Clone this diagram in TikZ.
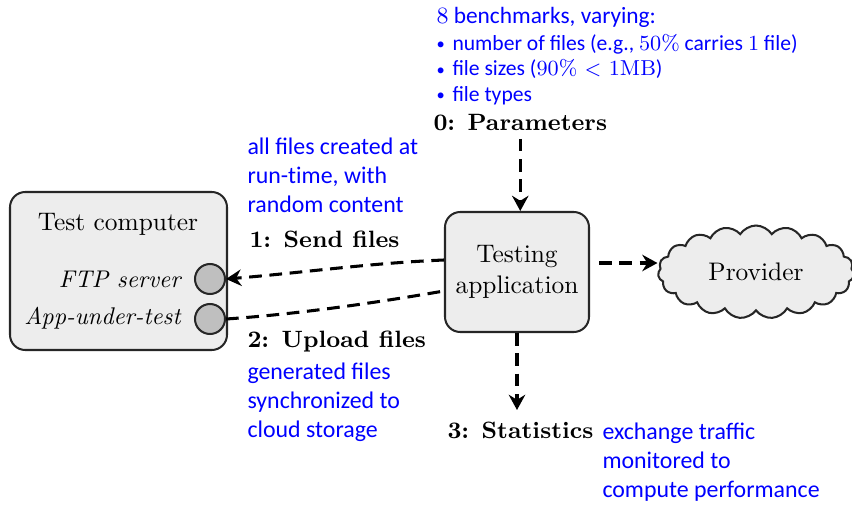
\documentclass[tikz,border=0pt]{standalone}
\usepackage{fontspec}
\usetikzlibrary{arrows.meta,shapes.symbols,fit}
\newfontfamily\blufont{Carlito}
\newdimen\pxu
\pxu=0.3937pt
\newcommand{\itembullet}{\makebox[16\pxu][l]{\raisebox{0.3pt}{\fontsize{6.5}{7}\selectfont •}}}
\tikzset{
  panel/.style={draw=black!85, line width=0.8pt, fill=black!7, rounded corners=6pt},
  port/.style={circle, draw=black!85, line width=0.8pt, fill=black!25,
    minimum size=30\pxu, inner sep=0pt},
  dflow/.style={line width=1.2pt, dash pattern=on 5pt off 3pt},
  tip/.style={-{Stealth[length=6pt,width=6.5pt,inset=2pt]}},
  stagelbl/.style={font=\fontsize{9.3}{11}\selectfont\bfseries, inner sep=0pt},
  plain/.style={font=\fontsize{10}{12}\selectfont, inner sep=0pt},
  portlbl/.style={font=\fontsize{9.5}{11}\selectfont\itshape, inner sep=0pt, anchor=base east},
  note/.style={text=blue, font=\blufont\fontsize{9.4}{11.4}\selectfont,
    align=left, inner sep=0pt},
}
\begin{document}
\begin{tikzpicture}[x=0.3937pt, y=-0.3937pt]
\useasboundingbox (0,0) rectangle (852,505);

% test computer with its two ports
\node[panel, fit={(10,192) (227,350)}, inner sep=0pt] (tc) {};
\node[plain, anchor=base] (tctitle) at (118,230) {Test computer};
\node[port] (ftp) at (210,279) {};
\node[port] (aut) at (210,319) {};
\node[portlbl] (ftplbl) at (181,287) {FTP server};
\node[portlbl] (autlbl) at (181,324) {App-under-test};

% testing application
\node[panel, minimum width=144\pxu, minimum height=120\pxu, align=center,
      font=\fontsize{10}{12}\selectfont] (app) at (517,272) {Testing\\application};

% cloud provider
\node[cloud, cloud puffs=19, cloud puff arc=115, aspect=2.1, draw=black!85,
      line width=0.8pt, fill=black!7, minimum width=196\pxu, minimum height=93\pxu,
      font=\fontsize{10}{12}\selectfont] (prov) at (756,272) {Provider};

% stage labels
\node[stagelbl, anchor=base west] (param) at (433,130) {0: Parameters};
\node[stagelbl, anchor=base west] (send) at (249,247) {1: Send files};
\node[stagelbl, anchor=base west] (upload) at (247,347) {2: Upload files};
\node[stagelbl, anchor=base west] (stats) at (447,438) {3: Statistics};

% notes (the base anchor sits on the last line)
\node[note, anchor=base west, font=\blufont\fontsize{8.5}{9.9}\selectfont] (bench) at (436,101)
  {{\fontsize{9.2}{9.9}\selectfont{\normalfont 8} benchmarks, varying:}\\[0.8pt]
   \itembullet number of files (e.g., {\normalfont 50\%} carries {\normalfont 1} file)\\
   \itembullet file sizes ({\normalfont 90\% $<$ 1MB})\\
   \itembullet file types};
\node[note, anchor=base west] (runtime) at (247,212)
  {all files created at\\run-t\kern0pt ime, with\\random content};
\node[note, anchor=base west] (sync) at (247,437)
  {generated files\\synchronized to\\cloud storage};
\node[note, anchor=base west] (traffic) at (602,497)
  {exchange traffic\\monitored to\\compute performance};

% flows
\draw[dflow, tip, shorten <=8\pxu] (param.south) -- (param.south |- app.north);
\draw[dflow, tip, shorten >=11\pxu] (app.south) -- (app.south |- stats.north);
\draw[dflow, tip, shorten <=9\pxu] ([yshift=9\pxu]app.east) -- ([yshift=9\pxu]app.east -| prov.west);
\draw[dflow, tip] ([yshift=12\pxu]app.west) .. controls (370,263) and (300,273) .. (ftp.east);
\draw[dflow] (aut.east) .. controls (300,314) and (380,302) .. ([yshift=-19\pxu]app.west);
\end{tikzpicture}
\end{document}
